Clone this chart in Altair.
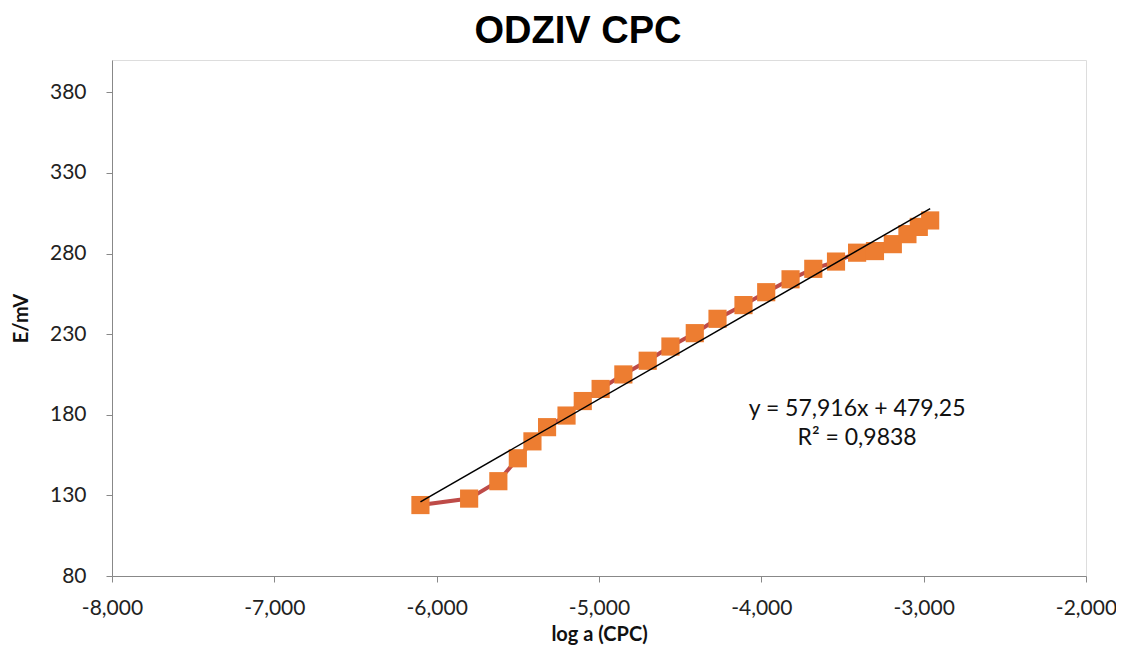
import altair as alt
import pandas as pd

# data
log_a = [-6.10, -5.80, -5.62, -5.50, -5.41, -5.32, -5.20, -5.10, -4.99,
         -4.85, -4.70, -4.56, -4.41, -4.27, -4.11, -3.97, -3.82, -3.68,
         -3.54, -3.41, -3.30, -3.19, -3.10, -3.03, -2.96]
e_mv = [124.0, 128.0, 138.8, 153.0, 163.5, 172.3, 179.5, 188.5, 196.0,
        205.0, 213.5, 222.3, 230.6, 239.5, 248.0, 256.0, 264.0, 270.5,
        275.0, 280.5, 281.5, 285.8, 292.0, 296.5, 300.5]
slope = 57.916
intercept = 479.25
eq_lines = ["y = 57,916x + 479,25", "R² = 0,9838"]
eq_x = [-3.41, -3.41]
eq_y = [183.5, 165.5]

df = pd.DataFrame({"x": log_a, "y": e_mv, "i": list(range(len(log_a)))})
trend_df = pd.DataFrame({"x": [min(log_a), max(log_a)]})
eq_df = pd.DataFrame({"t": eq_lines, "x": eq_x, "y": eq_y})

FONT = "Lato"

xscale = alt.Scale(domain=[-8, -2], nice=False, zero=False)
yscale = alt.Scale(domain=[80, 400], nice=False, zero=False)

xaxis = alt.Axis(
    title="log a (CPC)", values=[-8, -7, -6, -5, -4, -3, -2],
    labelExpr="replace(replace(format(datum.value, '.3f'), '.', ','), '\u2212', '-')",
    grid=False, domainColor="#888888", tickColor="#888888", tickSize=6,
    labelFont=FONT, labelFontSize=21, labelColor="#222222", labelPadding=15,
    titleFont=FONT, titleFontSize=20, titleFontWeight="bold", titleColor="#111111",
    titlePadding=6, labelFlush=False,
)
yaxis = alt.Axis(
    title="E/mV", values=[80, 130, 180, 230, 280, 330, 380],
    grid=False, domainColor="#888888", tickColor="#888888", tickSize=6,
    labelFont=FONT, labelFontSize=21, labelColor="#222222", labelPadding=20,
    titleFont=FONT, titleFontSize=20, titleFontWeight="bold", titleColor="#111111",
    titlePadding=18,
)

base = alt.Chart(df)
line = base.mark_line(color="#BE4B48", strokeWidth=4).encode(
    x=alt.X("x:Q", scale=xscale, axis=xaxis),
    y=alt.Y("y:Q", scale=yscale, axis=yaxis),
    order="i:Q",
)
pts = base.mark_point(shape="square", filled=True, size=330, color="#ED7D31", opacity=1).encode(
    x=alt.X("x:Q", scale=xscale),
    y=alt.Y("y:Q", scale=yscale),
)
trend = alt.Chart(trend_df).transform_calculate(
    yt=f"{slope} * datum.x + {intercept}"
).mark_line(color="#000000", strokeWidth=1.5).encode(
    x=alt.X("x:Q", scale=xscale),
    y=alt.Y("yt:Q", scale=yscale),
)
eq = alt.Chart(eq_df).mark_text(font=FONT, fontSize=23, color="#111111", align="center").encode(
    x=alt.X("x:Q", scale=xscale),
    y=alt.Y("y:Q", scale=yscale),
    text="t:N",
)

chart = alt.layer(line, pts, trend, eq).properties(
    width=974, height=516,
    autosize=alt.AutoSizeParams(type="none"),
    padding={"left": 104, "top": 52, "right": 30, "bottom": 72},
    title=alt.TitleParams("ODZIV CPC", font="Liberation Sans", fontSize=38, fontWeight="bold",
                          color="#000000", anchor="middle", dx=-21, offset=9),
).configure_view(stroke=None).configure(background="white")

chart.save("out.html", embed_options={"renderer": "svg", "actions": False})
